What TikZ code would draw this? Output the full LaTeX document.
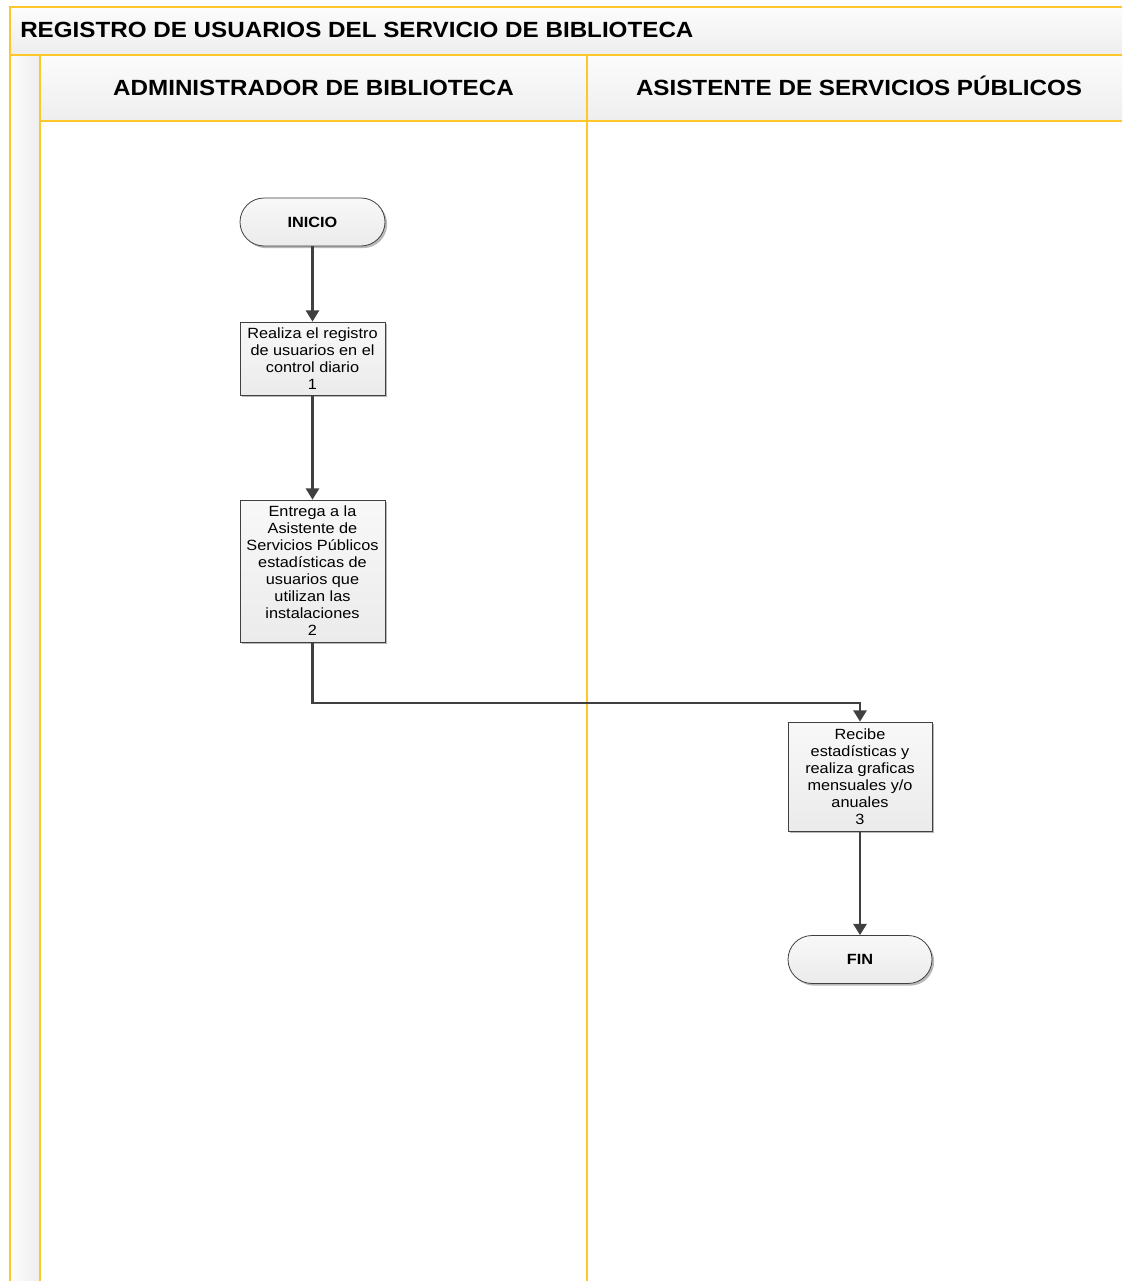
\documentclass[tikz,border=0pt]{standalone}
\usepackage{fontspec}
\setmainfont{Liberation Sans}[FakeStretch=1.1]
\usetikzlibrary{arrows.meta,shadows}

\definecolor{lanegold}{HTML}{FFC629}
\definecolor{flowline}{HTML}{404040}
\definecolor{bandtop}{HTML}{FCFCFC}
\definecolor{bandbot}{HTML}{EEEEEE}
\definecolor{boxtop}{HTML}{F8F8F8}
\definecolor{boxbot}{HTML}{EBEBEB}
\definecolor{shade}{HTML}{B8B8B8}

\tikzset{
  lane/.style={draw=lanegold, line width=1.5pt},
  headtext/.style={font=\fontsize{16.5}{19}\selectfont\bfseries, inner sep=0},
  shadowed/.style={drop shadow={shadow xshift=1.6pt, shadow yshift=-1.6pt, fill=shade, opacity=1}},
  process/.style={shadowed, draw=flowline, line width=0.6pt, top color=boxtop, bottom color=boxbot,
    inner sep=0, align=center, font=\fontsize{11.1}{12.75}\selectfont,
    minimum width=108.75pt},
  terminal/.style={process, rounded corners=18pt, minimum height=36pt, font=\fontsize{11.1}{12.75}\selectfont\bfseries},
  flow/.style={draw=flowline, line width=1.6pt, -{Triangle[length=8.5pt,width=10pt]}}
}

\begin{document}
\begin{tikzpicture}[x=0.75pt, y=-0.75pt]
\useasboundingbox (0,0) rectangle (1122,1281);

% backgrounds of the pool
\fill[white] (10,7) rectangle (1122,1281);
\shade[top color=bandtop, bottom color=bandbot] (10,7) rectangle (1122,55);
\shade[top color=bandtop, bottom color=bandbot] (40,55) rectangle (1122,121);
\shade[left color=bandtop, right color=bandbot] (10,55) rectangle (40,1281);

% pool and lane borders
\draw[lane] (10,1281) -- (10,7) -- (1122,7);
\draw[lane] (10,55) -- (1122,55);
\draw[lane] (40,55) -- (40,1281);
\draw[lane] (40,121) -- (1122,121);
\draw[lane] (587,55) -- (587,1281);

% titles
\node[headtext, anchor=base west] (title) at (20,38) {REGISTRO DE USUARIOS DEL SERVICIO DE BIBLIOTECA};
\node[headtext, anchor=base] (laneA) at (313.5,95) {ADMINISTRADOR DE BIBLIOTECA};
\node[headtext, anchor=base] (laneB) at (859,95) {ASISTENTE DE SERVICIOS PÚBLICOS};

% flow nodes
\node[terminal] (ini) at (312.5,222) {INICIO};
\node[process, minimum height=54.75pt] (p1) at (312.5,358.5)
  {Realiza el registro\\de usuarios en el\\control diario\\1};
\node[process, minimum height=106.5pt] (p2) at (312.5,571)
  {Entrega a la\\Asistente de\\Servicios Públicos\\estadísticas de\\usuarios que\\utilizan las\\instalaciones\\2};
\node[process, minimum width=108pt, minimum height=81.75pt] (p3) at (860,776.5)
  {Recibe\\estadísticas y\\realiza graficas\\mensuales y/o\\anuales\\3};
\node[terminal, minimum width=108pt] (fin) at (860,959.5) {FIN};

% connectors
\draw[flow] (ini) -- (p1);
\draw[flow] (p1) -- (p2);
\draw[flow] (p2.south) -- ++(0,61) -| (p3.north);
\draw[flow] (p3) -- (fin);
\end{tikzpicture}
\end{document}
